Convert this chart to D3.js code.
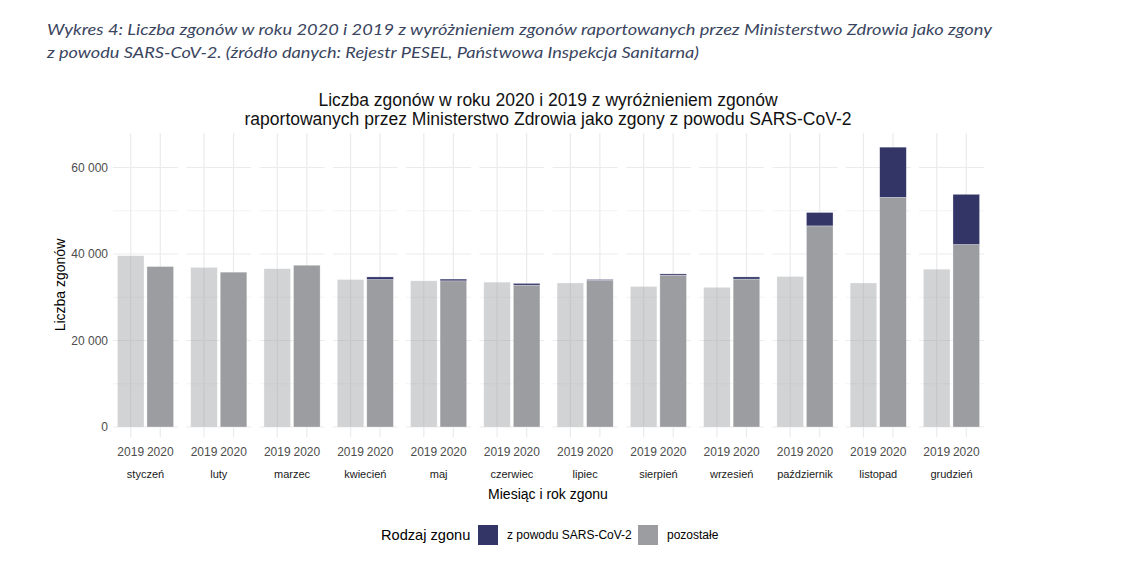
<!DOCTYPE html>
<html>
<head>
<meta charset="utf-8">
<script src="https://cdn.jsdelivr.net/npm/d3@7"></script>
<style>
  body { margin: 0; background: #fff; }
  text { font-family: "Liberation Sans", Arial, sans-serif; }
</style>
</head>
<body>
<div class="container"></div>
<script>
const months = ['styczeń', 'luty', 'marzec', 'kwiecień', 'maj', 'czerwiec', 'lipiec',
                'sierpień', 'wrzesień', 'październik', 'listopad', 'grudzień'];
const years = ['2019', '2020'];
const deaths2019 = [39600, 36900, 36600, 34100, 33800, 33500, 33300, 32500, 32300, 34800, 33300, 36500];
const other2020 = [37100, 35800, 37400, 34100, 33800, 32800, 33900, 35100, 34200, 46500, 53100, 42200];
const covid2020 = [0, 0, 0, 600, 400, 400, 200, 300, 500, 3100, 11600, 11600];
const yTicks = [0, 20000, 40000, 60000];
const yMinor = [10000, 30000, 50000];
const legendLabels = ['z powodu SARS-CoV-2', 'pozostałe'];

const width = 1130;
const height = 577;
const colors = { covid: '#323566', other: '#9c9da1' };

const svg = d3.select('.container')
  .append('svg')
  .attr('width', width)
  .attr('height', height);

// caption from the document
const caption = svg.append('g')
  .attr('fill', '#3a4560')
  .attr('font-style', 'italic')
  .attr('font-size', 16);
caption.append('text')
  .attr('x', 47).attr('y', 35)
  .style('font-family', 'Lato, "Open Sans", sans-serif')
  .attr('textLength', 945).attr('lengthAdjust', 'spacingAndGlyphs')
  .text('Wykres 4: Liczba zgonów w roku 2020 i 2019 z wyróżnieniem zgonów raportowanych przez Ministerstwo Zdrowia jako zgony');
caption.append('text')
  .attr('x', 47).attr('y', 58)
  .style('font-family', 'Lato, "Open Sans", sans-serif')
  .attr('textLength', 652).attr('lengthAdjust', 'spacingAndGlyphs')
  .text('z powodu SARS-CoV-2. (źródło danych: Rejestr PESEL, Państwowa Inspekcja Sanitarna)');

// scales
const x = d3.scaleBand()
  .domain(months)
  .range([113, 984])
  .paddingInner(0.113)
  .paddingOuter(0);
const xYear = d3.scalePoint()
  .domain(years)
  .range([0, x.bandwidth()])
  .padding(0.6);
const barW = xYear.step() * 0.9;

const y = d3.scaleLinear()
  .domain([0, 60000])
  .range([427, 167.5]);
const panelTop = y(68000);
const panelBottom = y(-2350);

// title
svg.append('text')
  .attr('x', 548).attr('y', 106)
  .attr('text-anchor', 'middle')
  .attr('font-size', 17.5).attr('fill', '#111')
  .text('Liczba zgonów w roku 2020 i 2019 z wyróżnieniem zgonów');
svg.append('text')
  .attr('x', 548).attr('y', 125)
  .attr('text-anchor', 'middle')
  .attr('font-size', 17.5).attr('fill', '#111')
  .text('raportowanych przez Ministerstwo Zdrowia jako zgony z powodu SARS-CoV-2');

// panels
const panels = svg.selectAll('g.panel')
  .data(months)
  .enter()
  .append('g')
  .attr('class', 'panel')
  .attr('transform', d => `translate(${x(d)}, 0)`);

panels.selectAll('line.minor')
  .data(yMinor)
  .enter()
  .append('line')
  .attr('x1', 0).attr('x2', x.bandwidth())
  .attr('y1', d => y(d)).attr('y2', d => y(d))
  .attr('stroke', '#f3f3f3').attr('stroke-width', 1);

panels.selectAll('line.major')
  .data(yTicks)
  .enter()
  .append('line')
  .attr('x1', 0).attr('x2', x.bandwidth())
  .attr('y1', d => y(d)).attr('y2', d => y(d))
  .attr('stroke', '#ebebeb').attr('stroke-width', 1.2);

panels.selectAll('line.vert')
  .data(years)
  .enter()
  .append('line')
  .attr('x1', d => xYear(d)).attr('x2', d => xYear(d))
  .attr('y1', panelTop).attr('y2', panelBottom)
  .attr('stroke', '#ebebeb').attr('stroke-width', 1.2);

// bars
const rows = months.map((m, i) => ({
  month: m,
  y2019: deaths2019[i],
  other: other2020[i],
  covid: covid2020[i]
}));

svg.selectAll('rect.b2019')
  .data(rows)
  .enter()
  .append('rect')
  .attr('x', d => x(d.month) + xYear('2019') - barW / 2)
  .attr('y', d => y(d.y2019))
  .attr('width', barW)
  .attr('height', d => y(0) - y(d.y2019))
  .attr('fill', colors.other)
  .attr('fill-opacity', 0.45)
  .attr('stroke', '#fff').attr('stroke-opacity', 0.5).attr('stroke-width', 0.6);

svg.selectAll('rect.other')
  .data(rows)
  .enter()
  .append('rect')
  .attr('x', d => x(d.month) + xYear('2020') - barW / 2)
  .attr('y', d => y(d.other))
  .attr('width', barW)
  .attr('height', d => y(0) - y(d.other))
  .attr('fill', colors.other)
  .attr('stroke', '#fff').attr('stroke-opacity', 0.5).attr('stroke-width', 0.6);

svg.selectAll('rect.covid')
  .data(rows.filter(d => d.covid > 0))
  .enter()
  .append('rect')
  .attr('x', d => x(d.month) + xYear('2020') - barW / 2)
  .attr('y', d => y(d.other + d.covid))
  .attr('width', barW)
  .attr('height', d => y(d.other) - y(d.other + d.covid))
  .attr('fill', colors.covid)
  .attr('stroke', '#fff').attr('stroke-opacity', 0.5).attr('stroke-width', 0.6);

// y axis labels
svg.selectAll('text.ytick')
  .data(yTicks)
  .enter()
  .append('text')
  .attr('x', 108)
  .attr('y', d => y(d) + 4)
  .attr('text-anchor', 'end')
  .attr('font-size', 12).attr('fill', '#4d4d4d')
  .text(d => d3.format(',')(d).replace(/,/g, ' '));

svg.append('text')
  .attr('transform', `translate(65, ${(panelTop + panelBottom) / 2}) rotate(-90)`)
  .attr('text-anchor', 'middle')
  .attr('font-size', 14).attr('fill', '#000')
  .text('Liczba zgonów');

// x axis labels
panels.selectAll('text.year')
  .data(years)
  .enter()
  .append('text')
  .attr('x', d => xYear(d))
  .attr('y', 456)
  .attr('text-anchor', 'middle')
  .attr('font-size', 12).attr('fill', '#4d4d4d')
  .text(d => d);

panels.append('text')
  .attr('x', x.bandwidth() / 2)
  .attr('y', 478)
  .attr('text-anchor', 'middle')
  .attr('font-size', 11).attr('fill', '#1a1a1a')
  .text(d => d);

svg.append('text')
  .attr('x', 548).attr('y', 499)
  .attr('text-anchor', 'middle')
  .attr('font-size', 14).attr('fill', '#000')
  .text('Miesiąc i rok zgonu');

// legend
const legend = svg.append('g').attr('transform', 'translate(381, 0)');
legend.append('text')
  .attr('x', 0).attr('y', 540)
  .attr('font-size', 14.6).attr('fill', '#000')
  .text('Rodzaj zgonu');
const keyX = [97, 257];
const keyColors = [colors.covid, colors.other];
legend.selectAll('rect.key')
  .data(legendLabels)
  .enter()
  .append('rect')
  .attr('x', (d, i) => keyX[i])
  .attr('y', 525)
  .attr('width', 20).attr('height', 20)
  .attr('fill', (d, i) => keyColors[i]);
legend.selectAll('text.key')
  .data(legendLabels)
  .enter()
  .append('text')
  .attr('x', (d, i) => keyX[i] + 29)
  .attr('y', 539)
  .attr('font-size', 12).attr('fill', '#000')
  .text(d => d);
</script>
</body>
</html>
